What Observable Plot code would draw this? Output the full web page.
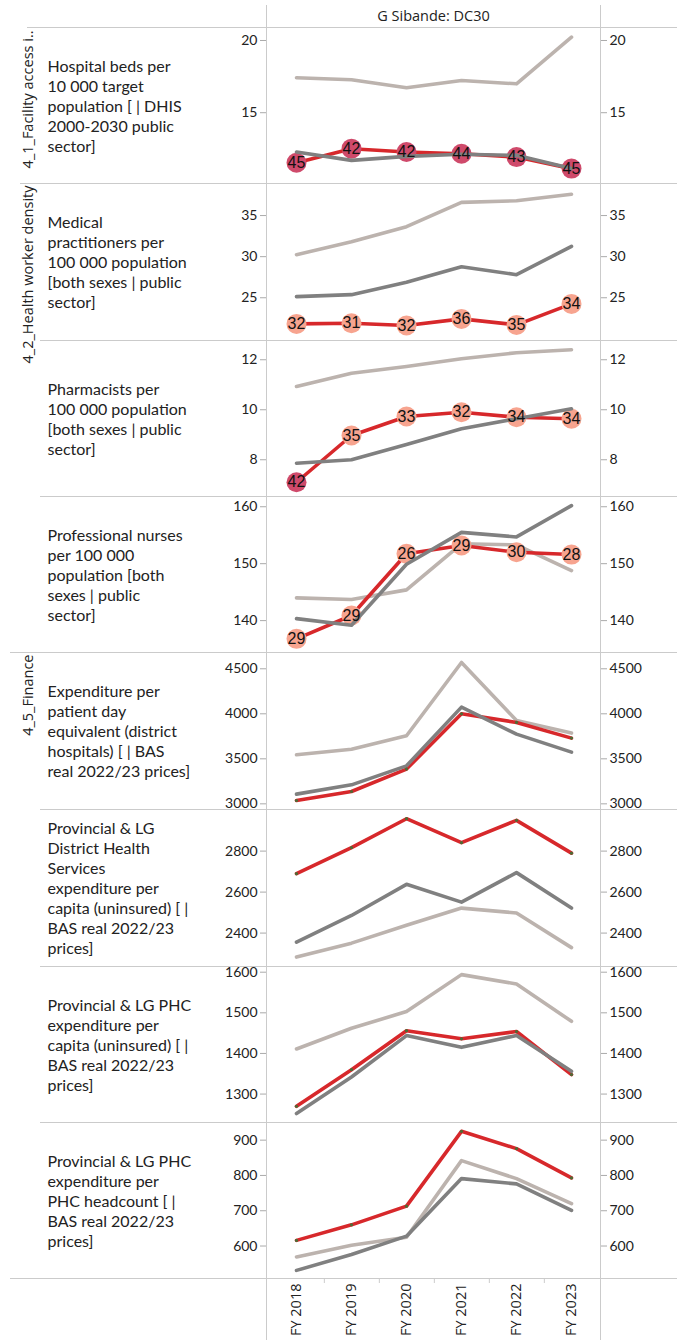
<!DOCTYPE html>
<html><head><meta charset="utf-8">
<script src="https://cdn.jsdelivr.net/npm/d3@7"></script>
<script src="https://cdn.jsdelivr.net/npm/@observablehq/plot@0.6"></script>
<style>
body{margin:0;background:#fff;}
#wrap{position:relative;width:683px;height:1340px;overflow:hidden;background:#fff;}
#wrap svg{position:absolute;left:0;display:block;overflow:visible;background:transparent;}
.ln{position:absolute;background:#cbcbcb;}
</style></head><body><div id="wrap"></div>
<script>
// ---------- data ----------
const years = ["FY 2018","FY 2019","FY 2020","FY 2021","FY 2022","FY 2023"];
const districtTitle = "G Sibande: DC30";
const groupLabels = ["4_1_Facility access i..", "4_2_Health worker density", "4_5_Finance"];
const metricLabels = [
  "Hospital beds per\n10 000 target\npopulation [ | DHIS\n2000-2030 public\nsector]",
  "Medical\npractitioners per\n100 000 population\n[both sexes | public\nsector]",
  "Pharmacists per\n100 000 population\n[both sexes | public\nsector]",
  "Professional nurses\nper 100 000\npopulation [both\nsexes | public\nsector]",
  "Expenditure per\npatient day\nequivalent (district\nhospitals) [ | BAS\nreal 2022/23 prices]",
  "Provincial & LG\nDistrict Health\nServices\nexpenditure per\ncapita (uninsured) [ |\nBAS real 2022/23\nprices]",
  "Provincial & LG PHC\nexpenditure per\ncapita (uninsured) [ |\nBAS real 2022/23\nprices]",
  "Provincial & LG PHC\nexpenditure per\nPHC headcount [ |\nBAS real 2022/23\nprices]"
];

// district (red), dark-grey comparison, light-grey comparison, district rank
const bedsDistrict = [11.54, 12.51, 12.28, 12.16, 11.93, 11.13];
const bedsDark     = [12.28, 11.70, 11.98, 12.12, 12.05, 11.13];
const bedsLight    = [17.42, 17.28, 16.73, 17.23, 17.00, 20.23];
const bedsRank     = [45, 42, 42, 44, 43, 45];

const medDistrict = [21.82, 21.90, 21.62, 22.43, 21.70, 24.25];
const medDark     = [25.14, 25.38, 26.88, 28.78, 27.81, 31.25];
const medLight    = [30.24, 31.82, 33.65, 36.60, 36.80, 37.60];
const medRank     = [32, 31, 32, 36, 35, 34];

const pharmDistrict = [7.10, 8.97, 9.73, 9.90, 9.70, 9.64];
const pharmDark     = [7.86, 8.00, 8.61, 9.24, 9.64, 10.04];
const pharmLight    = [10.93, 11.46, 11.73, 12.04, 12.28, 12.40];
const pharmRank     = [42, 35, 33, 32, 34, 34];

const nurseDistrict = [136.8, 140.9, 151.75, 153.2, 152.0, 151.6];
const nurseDark     = [140.35, 139.2, 149.9, 155.5, 154.7, 160.2];
const nurseLight    = [144.0, 143.7, 145.4, 153.5, 153.3, 148.8];
const nurseRank     = [29, 29, 26, 29, 30, 28];

const pdeDistrict = [3037, 3137, 3386, 4000, 3904, 3730];
const pdeDark     = [3108, 3211, 3422, 4074, 3774, 3574];
const pdeLight    = [3545, 3607, 3756, 4570, 3926, 3786];

const dhsDistrict = [2690, 2817, 2958, 2841, 2950, 2790];
const dhsDark     = [2356, 2486, 2638, 2551, 2695, 2522];
const dhsLight    = [2283, 2351, 2438, 2522, 2498, 2329];

const phcCapDistrict = [1270, 1360, 1456, 1436, 1454, 1348];
const phcCapDark     = [1252, 1342, 1444, 1415, 1444, 1356];
const phcCapLight    = [1411, 1462, 1503, 1594, 1571, 1479];

const phcHcDistrict = [616, 660, 713, 925, 876, 793];
const phcHcDark     = [531, 576, 628, 791, 776, 701];
const phcHcLight    = [569, 602, 625, 842, 791, 720];

const yTicks = [[15,20],[25,30,35],[8,10,12],[140,150,160],[3000,3500,4000,4500],[2400,2600,2800],[1300,1400,1500,1600],[600,700,800,900]];
const yDomains = [[10.1,20.83],[19.8,38.9],[6.53,12.77],[134.4,161.8],[2937,4681],[2237,3003],[1230,1614],[508,950]];

// ---------- layout ----------
const W = 683, ML = 266, MR = 83;
const bounds = [28,183,340,496,652,809,966,1122,1278];
const FONT = "Lato, 'Open Sans', sans-serif";
const HFONT = "'Open Sans', sans-serif";
const RED = "#d7282b", DARK = "#808080", LIGHT = "#bcb3ae";

const series = [
  [bedsDistrict, bedsDark, bedsLight, bedsRank],
  [medDistrict, medDark, medLight, medRank],
  [pharmDistrict, pharmDark, pharmLight, pharmRank],
  [nurseDistrict, nurseDark, nurseLight, nurseRank],
  [pdeDistrict, pdeDark, pdeLight, null],
  [dhsDistrict, dhsDark, dhsLight, null],
  [phcCapDistrict, phcCapDark, phcCapLight, null],
  [phcHcDistrict, phcHcDark, phcHcLight, null]
];
const groupAt = {0: groupLabels[0], 1: groupLabels[1], 4: groupLabels[2]};

const wrap = document.getElementById("wrap");
function place(el, top) { el.style.top = top + "px"; wrap.appendChild(el); }

// header
place(Plot.plot({
  width: W, height: 28, marginLeft: ML, marginRight: MR, marginTop: 0, marginBottom: 0,
  style: {fontFamily: HFONT, background: "transparent", overflow: "visible"},
  marks: [Plot.text([districtTitle], {frameAnchor: "middle", dy: 2, fontSize: 14.5, fill: "#222"})]
}), 0);

series.forEach(([dist, dark, light, rank], i) => {
  const h = bounds[i+1] - bounds[i];
  const rows = years.map((y, j) => ({year: y, district: dist[j], dark: dark[j], light: light[j], rank: rank ? rank[j] : null}));
  const axisOpts = {ticks: yTicks[i], tickSize: 6, tickFormat: d => String(d), label: null,
    stroke: "#aaa", fill: "#222", fontSize: 14};
  const marks = [
    Plot.axisY({...axisOpts, anchor: "left", tickPadding: 3}),
    Plot.axisY({...axisOpts, anchor: "right", tickPadding: 3}),
    Plot.lineY(rows, {x: "year", y: "light", stroke: LIGHT, strokeWidth: 3.6}),
    Plot.lineY(rows, {x: "year", y: "district", stroke: RED, strokeWidth: 3.6}),
  ];
  if (rank) {
    marks.push(Plot.dot(rows, {x: "year", y: "district", r: 10, fill: "rank", stroke: null}));
    marks.push(Plot.lineY(rows, {x: "year", y: "dark", stroke: DARK, strokeWidth: 3.6}));
    marks.push(Plot.text(rows, {x: "year", y: "district", text: d => String(d.rank), fontSize: 16, fill: "#111", fontFamily: "'Liberation Sans', sans-serif"}));
  } else {
    marks.push(Plot.lineY(rows, {x: "year", y: "dark", stroke: DARK, strokeWidth: 3.6}));
    marks.push(Plot.dot(rows, {x: "year", y: "district", r: 1.6, fill: "#4d6b35", stroke: null}));
  }
  marks.push(Plot.text([metricLabels[i]], {frameAnchor: "left", dx: -219, textAnchor: "start", lineAnchor: "middle",
    lineHeight: 1.25, fontSize: 16, fill: "#222"}));
  if (groupAt[i] !== undefined) {
    marks.push(Plot.text([groupAt[i]], {frameAnchor: "top-left", dx: -238, dy: 2, rotate: -90, textAnchor: "end",
      lineAnchor: "middle", fontSize: 14.5, fill: "#222", fontFamily: HFONT}));
  }
  place(Plot.plot({
    width: W, height: h, marginLeft: ML, marginRight: MR, marginTop: 0, marginBottom: 0,
    style: {fontFamily: FONT, background: "transparent", overflow: "visible"},
    x: {type: "point", domain: years, padding: 0.5, axis: null},
    y: {domain: yDomains[i], axis: null},
    color: {type: "threshold", domain: [40], range: ["#f7a48f", "#cf4a6b"]},
    marks
  }), bounds[i]);
});

// x axis
place(Plot.plot({
  width: W, height: 62, marginLeft: ML, marginRight: MR, marginTop: 0, marginBottom: 0,
  style: {fontFamily: HFONT, background: "transparent", overflow: "visible"},
  x: {type: "point", domain: years, padding: 0.5, axis: null},
  marks: [
    Plot.ruleX(years.slice(0, -1), {x: d => d, dx: (W - ML - MR) / 12, insetBottom: 57, stroke: "#ccc"}),
    Plot.text(years, {x: d => d, frameAnchor: "top", dy: 5, rotate: -90, textAnchor: "end", lineAnchor: "middle", fontSize: 14.5, fill: "#222"})
  ]
}), 1278);

// grid lines (layout)
const lines = [
  {x: 266, y: 5, w: 1, h: 1335},
  {x: 600, y: 5, w: 1, h: 1335},
  {x: 27, y: 27, w: 650, h: 1},
  {x: 20, y: 183, w: 657, h: 1},
  {x: 40, y: 340, w: 637, h: 1},
  {x: 40, y: 496, w: 637, h: 1},
  {x: 10, y: 652, w: 667, h: 1},
  {x: 40, y: 809, w: 637, h: 1},
  {x: 40, y: 966, w: 637, h: 1},
  {x: 40, y: 1122, w: 637, h: 1},
  {x: 10, y: 1278, w: 667, h: 1}
];
lines.forEach(l => {
  const d = document.createElement("div");
  d.className = "ln";
  Object.assign(d.style, {left: l.x + "px", top: l.y + "px", width: l.w + "px", height: l.h + "px"});
  wrap.insertBefore(d, wrap.firstChild);
});
</script></body></html>
